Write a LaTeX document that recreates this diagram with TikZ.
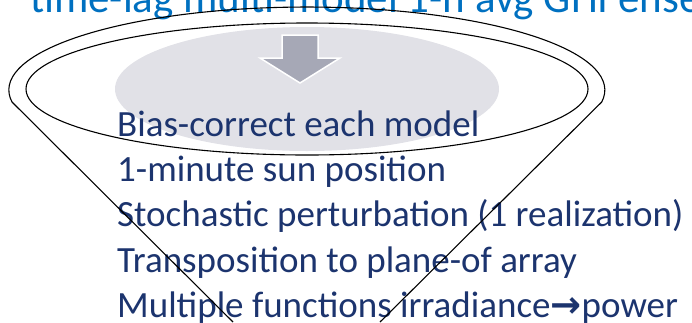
\documentclass[tikz,border=0pt]{standalone}
\usepackage{fontspec}
\setmainfont{Carlito}
\newfontfamily\symfont{DejaVu Sans}
\definecolor{titleblue}{RGB}{0,112,192}
\definecolor{navy}{RGB}{28,52,110}
\definecolor{ovalgray}{RGB}{225,225,231}
\definecolor{arrowgray}{RGB}{166,168,182}
\begin{document}
\begin{tikzpicture}[x=1pt,y=-1pt,
  titletext/.style={font=\fontsize{43}{48}\selectfont, text=titleblue, inner sep=0pt, anchor=base west},
  steptext/.style={font=\fontsize{37}{42}\selectfont, text=navy, inner sep=0pt, anchor=base west},
  outline/.style={draw=black, line width=1.1pt}]
\useasboundingbox (0,0) rectangle (692,322);
\clip (0,0) rectangle (692,322);
% title (cut off at top)
\node[titletext] (title) at (30,12) {time-lag multi-model 1-h avg GHI ense};
% gray oval
\fill[ovalgray] (307,89) ellipse [x radius=192, y radius=62];
% block arrow
\draw[fill=arrowgray, draw=white, line width=1.5pt]
  (282,35) -- (318,35) -- (318,58) -- (340,58) -- (300,83) -- (260,58) -- (282,58) -- cycle;
% steps
\node[steptext] (l1) at (117,136) {Bias-correct each model};
\node[steptext] (l2) at (117,181) {1-minute sun position};
\node[steptext] (l3) at (117,226) {Stochastic perturbation (1 realization)};
\node[steptext] (l4) at (117,272) {Transposition to plane-of array};
\node[steptext] (l5) at (117,317) {Multiple functions irradiance{\symfont\bfseries →}power};
% inner ellipse
\draw[outline] (307,89) ellipse [x radius=281, y radius=66];
% funnel outline
\coordinate (lc) at (12,102);
\coordinate (rc) at (603,102);
\coordinate (lb) at (233,322);
\coordinate (rb) at (380,322);
\draw[outline] (lb) -- (lc) arc[start angle=171.7, end angle=368.3, x radius=298, y radius=83] -- (rb);
\end{tikzpicture}
\end{document}
